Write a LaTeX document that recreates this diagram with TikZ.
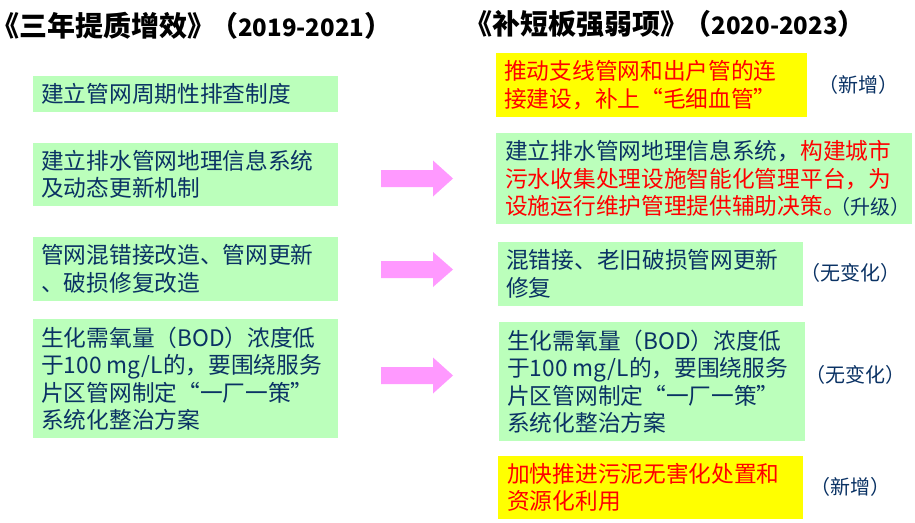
\documentclass[tikz,border=0pt]{standalone}
\usepackage{fontspec}
\setmainfont{Noto Sans CJK SC}
\definecolor{boxgreen}{RGB}{187,255,187}
\definecolor{navy}{RGB}{10,50,100}
\definecolor{hlyellow}{RGB}{255,255,0}
\definecolor{txtred}{RGB}{255,0,0}
\definecolor{arrowpink}{RGB}{255,153,255}
\newcommand{\yrs}[1]{\kern-5pt（{\fontsize{24pt}{32pt}\selectfont #1}）}
\begin{document}
\begin{tikzpicture}[x=1pt,y=-1pt,
  greenbox/.style={fill=boxgreen,draw=none,inner sep=0pt,anchor=north west},
  yellowbox/.style={fill=hlyellow,draw=none,inner sep=0pt,anchor=north west},
  txt/.style={anchor=west,inner sep=0pt,align=left,text=navy,font={\fontsize{22.7pt}{27.5pt}\selectfont}},
  redtxt/.style={txt,text=txtred},
  tag/.style={anchor=west,inner sep=0pt,text=navy,font={\fontsize{20pt}{24pt}\selectfont}},
  titletxt/.style={anchor=west,inner sep=0pt,text=black,font={\fontsize{28pt}{32pt}\selectfont\bfseries}},
  blockarrow/.style={fill=arrowpink,draw=none}]
\useasboundingbox (0,0) rectangle (915,522);
% titles
\node[titletxt] (t1) at (-9,26) {《三年提质增效》\yrs{2019-2021}};
\node[titletxt] (t2) at (464.5,24) {《补短板强弱项》\yrs{2020-2023}};
% left boxes
\node[greenbox,minimum width=305,minimum height=36] (l1) at (33,76) {};
\node[greenbox,minimum width=305,minimum height=63] (l2) at (33,143) {};
\node[greenbox,minimum width=305,minimum height=64] (l3) at (33,237) {};
\node[greenbox,minimum width=305,minimum height=119] (l4) at (33,319) {};
\node[txt] (l1t) at (41,94) {建立管网周期性排查制度};
\node[txt] (l2t) at (41,174.5) {建立排水管网地理信息系统\\及动态更新机制};
\node[txt] (l3t) at (41,269) {管网混错接改造、管网更新\\、破损修复改造};
\node[txt] (l4t) at (41,378.5) {生化需氧量（BOD）浓度低\\于100 mg/L的，要围绕服务\\片区管网制定“一厂一策”\\系统化整治方案};
% right boxes
\node[yellowbox,minimum width=311,minimum height=64] (r1) at (496,53) {};
\node[greenbox,minimum width=416,minimum height=91] (r2) at (496,133) {};
\node[greenbox,minimum width=305,minimum height=64] (r3) at (498,242) {};
\node[greenbox,minimum width=306,minimum height=119] (r4) at (499,322) {};
\node[yellowbox,minimum width=305,minimum height=63] (r5) at (498,456) {};
\node[redtxt] (r1t) at (504,85) {推动支线管网和出户管的连\\接建设，补上“毛细血管”};
\node[txt] (r2t) at (505,178.5) {建立排水管网地理信息系统，{\color{txtred}构建城市}\\{\color{txtred}污水收集处理设施智能化管理平台，为}\\{\color{txtred}设施运行维护管理提供辅助决策。}\kern-15pt{\fontsize{20pt}{27.5pt}\selectfont （升级）}};
\node[txt] (r3t) at (506,274) {混错接、老旧破损管网更新\\修复};
\node[txt] (r4t) at (507,381.5) {生化需氧量（BOD）浓度低\\于100 mg/L的，要围绕服务\\片区管网制定“一厂一策”\\系统化整治方案};
\node[redtxt] (r5t) at (507,487.5) {加快推进污泥无害化处置和\\资源化利用};
% tags
\node[tag] (g1) at (818,85) {（新增）};
\node[tag] (g3) at (800,273) {（无变化）};
\node[tag] (g4) at (805,375) {（无变化）};
\node[tag] (g5) at (810,487) {（新增）};
% block arrows
\fill[blockarrow] (381,170) -- (433,170) -- (433,160.5) -- (453,178.5) -- (433,196.5) -- (433,187) -- (381,187) -- cycle;
\fill[blockarrow] (381,261) -- (433,261) -- (433,252) -- (453,269.5) -- (433,287) -- (433,278) -- (381,278) -- cycle;
\fill[blockarrow] (381,367) -- (433,367) -- (433,357.5) -- (453,375.5) -- (433,393.5) -- (433,384) -- (381,384) -- cycle;
\end{tikzpicture}
\end{document}
